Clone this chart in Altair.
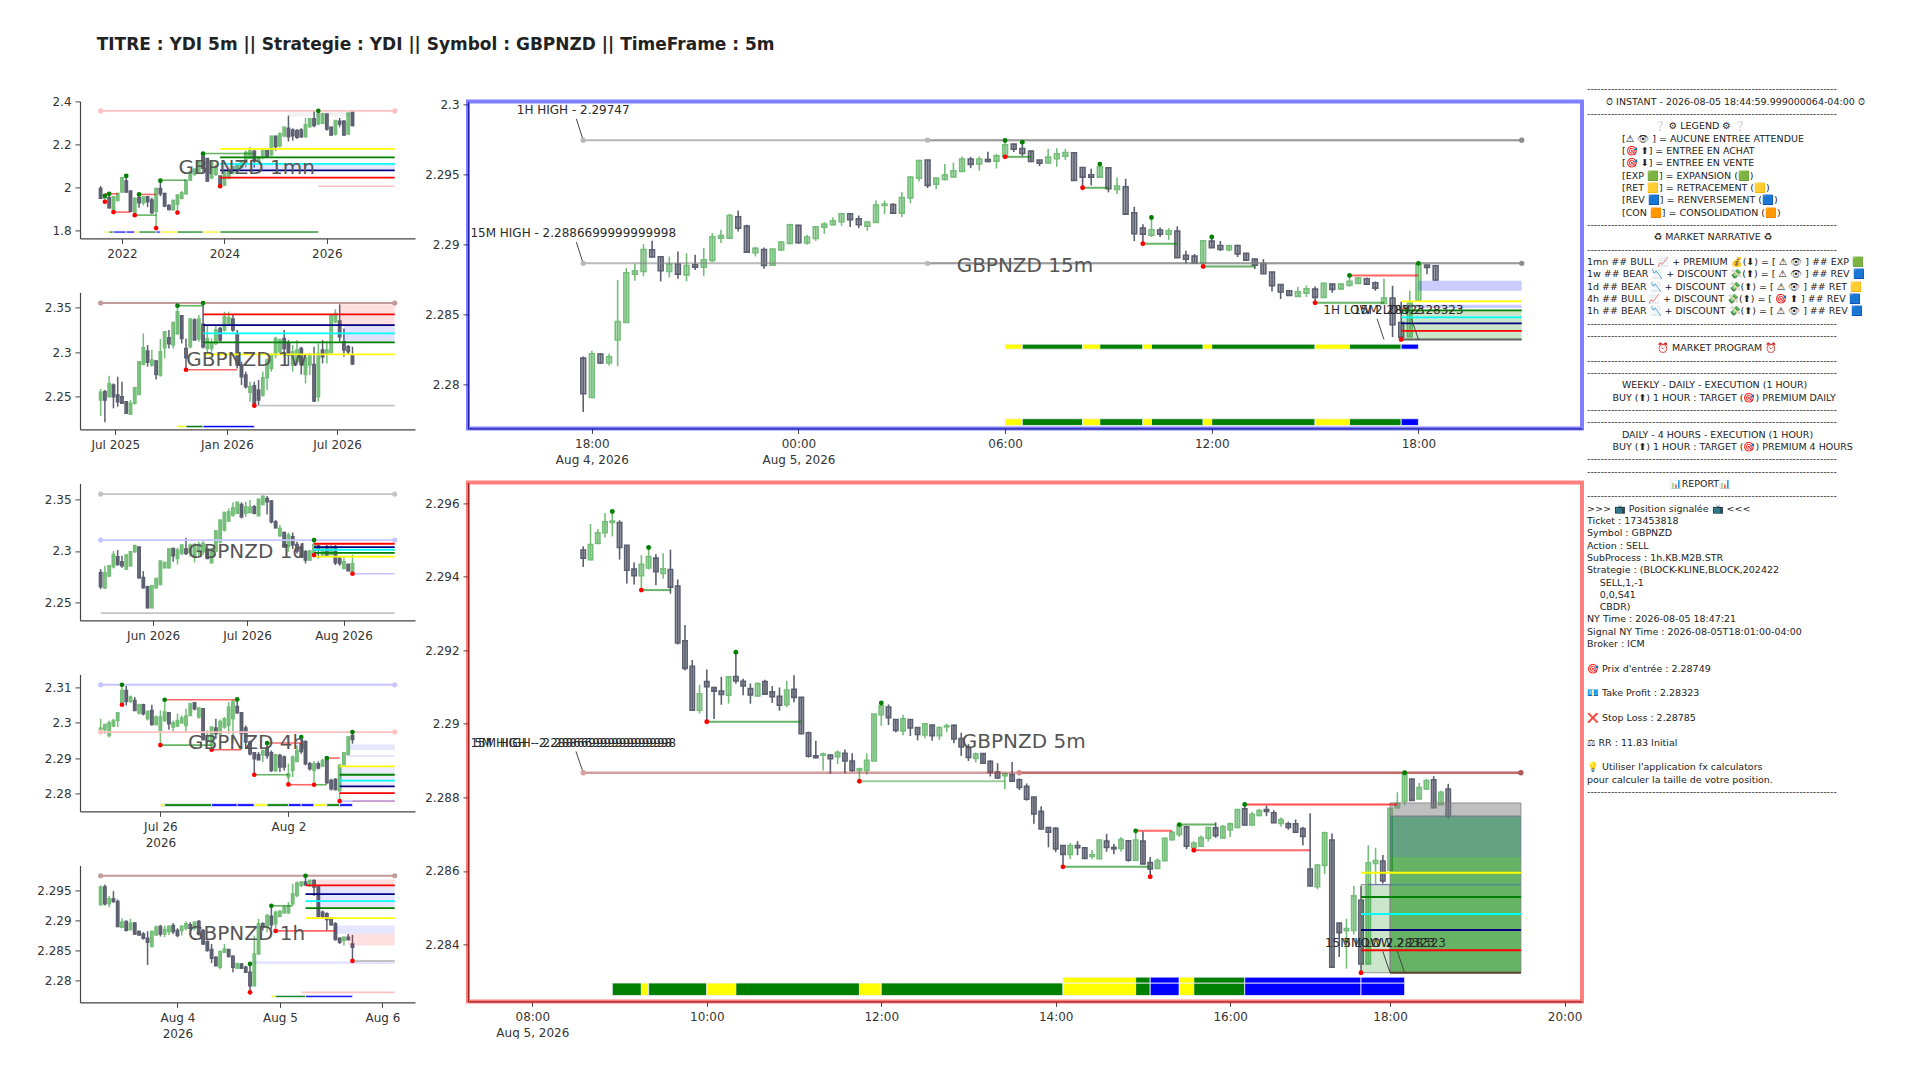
import json
import altair as alt
import pandas as pd

FONT = "DejaVu Sans"
GREEN = "#74be79"
DARK = "#5c5f70"
D, G = "d", "g"

# 5m candles: high, low, open, close (2 + value * 1e-5)
M5 = [(29483,29427,29473,29451),(29544,29445,29447,29488),(29530,29490,29491,29520),(29574,29507,29520,29550),(29578,29510,29548,29552),(29554,29447,29548,29480),(29486,29382,29486,29418),(29439,29379,29421,29403),(29459,29364,29403,29434),(29480,29420,29424,29455),
(29462,29377,29451,29414),(29464,29395,29409,29422),(29474,29354,29420,29372),(29393,29216,29375,29220),(29269,29145,29226,29151),(29174,29037,29157,29037),(29106,29028,29037,29082),(29148,29006,29115,29101),(29101,29013,29099,29089),(29128,29052,29089,29080),
(29129,29055,29078,29128),(29195,29109,29129,29117),(29123,29078,29116,29103),(29110,29055,29096,29079),(29113,29074,29076,29110),(29120,29079,29115,29081),(29103,29057,29087,29074),(29099,29036,29075,29051),(29117,29045,29052,29092),(29132,29059,29094,29072),
(29072,28972,29072,28973),(28979,28908,28976,28912),(28954,28906,28913,28908),(28922,28873,28915,28918),(28917,28864,28915,28905),(28928,28891,28911,28923),(28930,28865,28920,28899),(28920,28869,28899,28873),(28881,28844,28873,28878),(28920,28862,28873,28901),
(29027,28899,28899,29027),(29057,28995,29025,29049),(29053,28997,29046,29017),(29013,28977,29012,28982),(29025,28969,28981,29014),(29013,28967,29012,28989),(28991,28955,28990,28971),(29002,28961,28970,29000),(28998,28954,28997,28968),(28993,28956,28968,28990),
(29001,28977,28992,28995),(28998,28947,28996,28959),(28976,28913,28960,28937),(28945,28899,28935,28909),(28922,28895,28906,28918),(28920,28891,28919,28893),(28901,28857,28898,28868),(28893,28850,28869,28853),(28867,28823,28859,28864),(28896,28842,28862,28844),
(28852,28820,28848,28827),(28838,28791,28830,28795),(28802,28728,28801,28755),(28776,28713,28762,28714),(28720,28664,28718,28705),(28719,28651,28716,28660),(28670,28611,28669,28645),(28676,28632,28645,28669),(28681,28643,28669,28663),(28664,28632,28663,28634),
(28657,28632,28639,28644),(28686,28632,28633,28684),(28701,28652,28681,28664),(28673,28645,28664,28660),(28692,28652,28661,28685),(28684,28625,28682,28629),(28709,28627,28629,28684),(28707,28618,28681,28619),(28638,28584,28623,28605),(28634,28605,28607,28628),
(28690,28627,28628,28689),(28709,28683,28685,28705),(28729,28692,28699,28722),(28723,28659,28720,28667),(28681,28656,28663,28676),(28696,28665,28667,28691),(28720,28680,28689,28718),(28732,28690,28717,28696),(28725,28689,28690,28721),(28732,28692,28712,28728),
(28769,28716,28718,28767),(28781,28723,28769,28725),(28761,28723,28725,28754),(28769,28748,28751,28764),(28778,28749,28767,28762),(28765,28730,28758,28731),(28745,28720,28729,28740),(28734,28712,28728,28718),(28740,28703,28728,28705),(28720,28670,28715,28694),
(28757,28558,28605,28559),(28618,28550,28557,28616),(28707,28591,28615,28704),(28702,28337,28684,28338),(28459,28366,28458,28432),(28470,28334,28437,28443),(28559,28427,28438,28532),(28558,28323,28520,28347),(28670,28346,28347,28622),(28663,28565,28620,28628),
(28643,28566,28627,28573),(28770,28602,28602,28770),(28814,28770,28772,28784),(28867,28778,28789,28862),(28851,28791,28850,28792),(28839,28795,28796,28827),(28851,28821,28823,28846),(28858,28770,28848,28772),(28818,28778,28780,28814),(28837,28743,28823,28749)]

# 15m candles: high, low, open, close (2 + value * 1e-5)
M15 = [(28202,27805,28190,27935),(28243,27909,27909,28221),(28226,28147,28219,28155),(28221,28138,28155,28200),(28747,28131,28319,28452),(28833,28445,28445,28800),(28864,28743,28790,28814),(29004,28774,28809,28966),(29028,28909,28964,28912),(28916,28738,28914,28814),
(28916,28766,28809,28862),(28952,28757,28862,28790),(28940,28738,28785,28852),(28928,28819,28859,28840),(28976,28778,28840,28893),(29083,28874,28888,29057),(29107,29012,29047,29066),(29221,29043,29047,29209),(29243,29095,29200,29119),(29143,28943,29133,28947),
(28985,28916,28943,28974),(28981,28828,28966,28852),(28971,28852,28854,28969),(29024,28957,28962,29019),(29150,29004,29009,29143),(29143,29007,29138,29014),(29071,29000,29012,29055),(29135,29028,29045,29128),(29162,29078,29126,29147),(29195,29138,29143,29171),
(29228,29136,29164,29221),(29226,29126,29221,29178),(29209,29119,29185,29143),(29171,29100,29133,29162),(29316,29157,29159,29283),(29316,29219,29281,29290),(29297,29221,29288,29226),(29376,29197,29226,29338),(29488,29297,29335,29483),(29607,29452,29476,29602),
(29607,29405,29605,29424),(29481,29397,29433,29476),(29576,29459,29466,29497),(29588,29483,29485,29528),(29631,29519,29524,29612),(29628,29547,29612,29574),(29631,29528,29578,29612),(29664,29590,29609,29595),(29650,29545,29597,29635),(29745,29628,29631,29714),
(29719,29662,29719,29683),(29733,29633,29688,29652),(29671,29590,29669,29595),(29607,29562,29605,29583),(29685,29583,29585,29626),(29690,29557,29614,29650),(29685,29605,29633,29659),(29657,29457,29657,29459),(29552,29407,29552,29483),(29543,29424,29500,29483),
(29576,29483,29483,29557),(29552,29374,29550,29400),(29481,29362,29395,29419),(29471,29216,29414,29219),(29271,29026,29228,29078),(29147,29007,29119,29076),(29195,29055,29069,29107),(29124,29055,29105,29076),(29119,29035,29076,29100),(29131,28905,29097,28907),
(28957,28862,28924,28897),(28933,28866,28919,28869),(29031,28866,28869,29028),(29055,28976,29026,28978),(29026,28955,28995,28966),(29000,28952,28964,28993),(29000,28912,28995,28935),(28943,28885,28938,28890),(28900,28826,28897,28854),(28897,28790,28866,28793),
(28807,28666,28805,28707),(28719,28612,28716,28662),(28678,28633,28671,28638),(28700,28628,28631,28664),(28709,28626,28654,28685),(28702,28585,28683,28624),(28728,28621,28624,28724),(28724,28657,28719,28681),(28726,28676,28685,28719),(28781,28702,28709,28738),
(28769,28719,28724,28762),(28766,28714,28757,28719),(28738,28671,28728,28690),(28757,28578,28581,28619),(28707,28340,28619,28428),(28595,28323,28445,28340),(28671,28338,28343,28581),(28867,28600,28605,28857),(28857,28790,28855,28838),(28852,28743,28850,28748)]

# small panels: direction, body top, body bottom, high, low
MN = [(D,1996,1950,2007,1950),(G,1959,1950,1962,1934),(D,1953,1906,1971,1903),(G,1957,1898,1960,1886),(G,1973,1940,1976,1937),(G,2046,1979,2049,1976),(D,2031,1979,2054,1976),(D,1984,1890,1984,1886),(G,1950,1887,1953,1872),(D,1953,1929,1968,1906),
(G,1956,1929,1960,1917),(D,1957,1934,1960,1909),(D,1942,1883,1953,1878),(G,1996,1890,1999,1816),(D,1996,1971,2031,1960),(D,1973,1914,1976,1909),(D,1917,1898,1922,1895),(G,1940,1897,1945,1893),(G,1965,1922,1968,1886),(G,1976,1950,1984,1945),
(G,2034,1971,2037,1968),(G,2074,2034,2077,2031),(G,2085,2062,2090,2054),(G,2116,2074,2124,2062),(D,2147,2090,2158,2070),(D,2135,2031,2135,2028),(G,2116,2046,2124,2038),(G,2093,2062,2108,2054),(D,2054,2015,2054,2007),(G,2070,2012,2077,2007),
(G,2080,2046,2085,2038),(G,2096,2070,2101,2062),(G,2105,2080,2108,2077),(G,2116,2093,2124,2090),(G,2163,2116,2171,2093),(G,2171,2137,2190,2132),(D,2168,2124,2174,2093),(G,2143,2121,2147,2116),(G,2171,2140,2179,2132),(D,2171,2143,2174,2137),
(G,2238,2152,2241,2147),(D,2238,2191,2241,2171),(G,2249,2194,2257,2186),(G,2280,2241,2283,2233),(D,2275,2236,2334,2214),(D,2267,2241,2275,2218),(D,2264,2233,2272,2225),(D,2267,2236,2275,2230),(G,2292,2236,2323,2233),(G,2320,2283,2323,2277),
(D,2319,2288,2358,2280),(G,2342,2295,2358,2291),(G,2342,2299,2347,2295),(D,2342,2272,2342,2264),(D,2280,2244,2283,2241),(G,2311,2249,2314,2241),(D,2308,2295,2323,2280),(D,2308,2244,2314,2241),(G,2345,2249,2350,2246),(D,2350,2288,2355,2284)]

W1 = [(G,22549,22463,22586,22284),(D,22556,22463,22575,22213),(G,22649,22500,22735,22500),(D,22631,22500,22649,22370),(D,22519,22444,22724,22388),(D,22500,22426,22668,22426),(D,22444,22314,22444,22314),(G,22426,22303,22463,22295),(G,22601,22426,22612,22414),(G,22892,22526,22899,22519),
(G,23049,22862,23209,22855),(D,23011,22885,23079,22836),(G,22911,22855,23022,22836),(D,22899,22750,22911,22694),(G,23004,22743,23146,22724),(G,23228,23049,23235,22929),(D,23161,23093,23246,23041),(G,23332,23079,23340,23041),(G,23452,23209,23519,23190),(D,23407,23153,23414,23097),
(D,23041,22937,23153,22810),(G,23370,23060,23377,23041),(D,23358,23134,23377,23134),(G,23370,23146,23414,23116),(D,23310,23060,23549,23041),(G,23153,23041,23302,22985),(G,23097,23041,23153,23004),(G,23246,23097,23295,23079),(D,23265,23134,23284,23116),(G,23396,23246,23452,23228),
(G,23384,23310,23452,23302),(D,23370,23246,23414,23228),(D,23209,22855,23246,22817),(D,22855,22724,22892,22631),(D,22743,22612,22780,22593),(G,22612,22549,22668,22444),(D,22623,22426,22668,22407),(D,22575,22463,22687,22407),(G,22713,22519,22780,22500),(G,22911,22713,22929,22575),
(G,22967,22817,22985,22780),(G,23153,22967,23172,22929),(G,23134,23004,23153,22967),(D,23153,23041,23246,22948),(D,23097,22967,23134,22855),(G,23004,22855,23079,22780),(G,23022,22892,23134,22855),(D,23041,22862,23060,22750),(G,22937,22750,22967,22649),(G,22967,22855,22985,22743),
(D,22862,22452,23060,22444),(G,22985,22500,23097,22444),(D,23022,22948,23134,22873),(G,23022,22985,23123,22873),(G,23414,22996,23433,22985),(G,23433,23340,23481,23321),(D,23347,23172,23534,23116),(D,23116,23022,23265,22948),(D,23060,23004,23079,22967),(D,22967,22866,23060,22855)]

D1 = [(D,22793,22654,22825,22632),(G,22789,22645,22857,22632),(G,22857,22757,22863,22751),(G,22966,22847,22998,22831),(D,22944,22870,23008,22857),(D,22896,22857,22953,22838),(G,22960,22825,22969,22815),(G,22992,22857,22998,22847),(G,23050,22992,23063,22985),(D,23037,22741,23040,22735),
(D,22744,22645,22805,22638),(D,22654,22452,22664,22445),(G,22664,22452,22670,22445),(G,22735,22645,22741,22632),(G,22902,22677,22905,22670),(G,22889,22838,22896,22831),(G,23018,22838,23024,22831),(D,23024,22953,23031,22896),(G,23008,22928,23031,22870),(G,23056,22976,23063,22960),
(D,23018,22976,23127,22960),(G,23056,22985,23072,22944),(G,23063,22944,23072,22889),(G,23063,22992,23088,22944),(G,23072,22992,23095,22960),(D,23018,22928,23031,22921),(G,23018,22886,23031,22879),(G,23191,22998,23201,22992),(G,23297,23088,23297,23072),(G,23371,23201,23378,23185),
(G,23378,23288,23410,23281),(G,23416,23346,23468,23330),(G,23468,23362,23474,23362),(D,23448,23330,23468,23313),(G,23426,23362,23474,23330),(G,23420,23371,23490,23362),(D,23426,23362,23442,23352),(G,23497,23339,23506,23336),(G,23526,23448,23532,23442),(D,23506,23474,23529,23352),
(D,23481,23281,23490,23265),(D,23281,23223,23297,23217),(G,23217,23146,23249,23137),(D,23178,23037,23185,23031),(G,23153,23040,23178,22992),(D,23137,23056,23178,23018),(D,23063,22998,23088,22976),(D,23040,22944,23072,22934),(D,22992,22912,23008,22879),(G,22998,22912,23008,22902),
(G,23063,22953,23108,22953),(D,23050,23008,23063,22928),(G,23018,22960,23040,22944),(D,23040,22960,23056,22944),(G,23024,22966,23056,22960),(D,23040,22886,23056,22863),(D,22928,22879,22944,22857),(G,22896,22831,22944,22831),(D,22870,22809,22879,22805),(G,22879,22799,22966,22780)]

H4 = [(G,229853,229759,230116,229721),(G,229956,229815,229975,229693),(G,230003,229646,230069,229590),(G,230069,229909,230116,229881),(G,230285,230069,230304,229881),(G,230915,230567,231075,230539),(D,230915,230605,231037,230492),(G,230727,230605,230774,230567),(D,230633,230351,230727,230351),(G,230511,230285,230539,230229),
(D,230511,230257,230539,230210),(G,230323,230116,230351,230069),(D,230351,229956,230511,229928),(G,230163,229956,230210,229928),(G,230163,229787,230351,229364),(G,230304,230069,230652,230022),(D,230285,229975,230304,229806),(G,230003,229881,230069,229721),(G,230069,229909,230257,229881),(G,230135,230003,230210,229975),
(G,230191,229928,230398,229721),(G,230539,230210,230567,230191),(D,230567,230398,230586,230351),(G,230417,230163,230445,230116),(D,230398,229533,230417,229505),(G,229646,229505,229787,229364),(G,229881,229364,229881,229251),(D,229853,229693,230116,229552),(G,230041,229693,230097,229646),(G,230116,229881,230163,229834),
(G,230445,229928,230586,229693),(G,230605,230116,230661,229439),(D,230464,230285,230633,230257),(D,230285,229693,230304,229665),(D,229853,229458,229928,229270),(D,229458,229129,229505,229082),(D,229157,228988,229176,228518),(D,229101,228960,229176,228941),(G,229214,229101,229251,228894),(D,229270,229082,229458,228988),
(D,229157,228659,229223,228612),(G,229101,228659,229129,228612),(D,229082,228753,229129,228612),(D,229035,228753,229082,228659),(G,228565,228471,228847,228330),(G,229035,228659,229082,228471),(G,229223,228913,229364,228894),(D,229411,229195,229599,229129),(D,229477,228847,229505,228800),(D,228847,228706,228894,228659),
(G,228847,228659,228922,228255),(D,228847,228725,228913,228687),(G,228941,228781,228988,228753),(D,228988,228311,229007,228283),(D,228377,228142,228424,228095),(D,228405,228123,228443,228095),(G,228800,228095,228847,227813),(G,229157,228819,229176,228800),(G,229599,229101,229627,229082),(D,229646,229533,229740,229411)]

H1 = [(G,229556,229261,229584,229250),(D,229556,229278,229600,229250),(G,229361,229278,229406,229223),(D,229361,229317,229489,229295),(D,229317,228900,229350,228889),(G,228973,228889,229039,228873),(D,228984,228839,229000,228817),(G,228956,228850,229028,228834),(D,228961,228778,228973,228761),(D,228817,228761,228834,228750),
(D,228778,228706,228806,228684),(D,228706,228639,228823,228261),(G,228817,228567,228834,228556),(G,228889,228761,228917,228750),(D,228900,228778,228928,228734),(G,228850,228778,228917,228722),(G,228906,228817,228917,228761),(D,228917,228817,228956,228778),(D,228834,228750,228873,228722),(G,228906,228834,228917,228750),
(G,228945,228873,228984,228834),(D,228928,228873,228973,228834),(G,228973,228873,228984,228834),(D,228984,228778,229011,228750),(D,228834,228611,228861,228595),(D,228650,228500,228667,228484),(D,228517,228373,228611,228295),(D,228389,228250,228406,228239),(G,228484,228222,228500,228184),(G,228528,228473,228611,228461),
(D,228517,228400,228528,228389),(D,228406,228222,228417,228139),(G,228284,228206,228295,228195),(D,228278,228206,228295,228195),(D,228222,228139,228250,228128),(D,228139,227917,228278,227806),(G,228445,227917,228750,227906),(G,228945,228445,229028,228445),(D,228945,228889,228973,228834),(G,229084,228889,229111,228806),
(D,229073,228928,229250,228861),(G,229139,228945,229167,228873),(G,229156,229073,229167,229056),(G,229223,229128,229250,229111),(G,229239,229128,229306,229111),(G,229445,229278,229611,229250),(G,229623,229417,229650,229389),(G,229639,229584,229650,229556),(D,229639,229595,229750,229584),(G,229667,229584,229684,229556),
(D,229667,229556,229684,229406),(D,229556,229073,229584,229056),(D,229139,229073,229167,229039),(D,229111,229017,229139,228834),(D,229028,228928,229056,228917),(D,228945,228684,228973,228667),(D,228706,228639,228723,228611),(G,228723,228667,228734,228584),(D,228723,228684,228778,228667),(D,228611,228556,228761,228322)]

SEG_G = "rgba(0,128,0,0.6)"
SEG_R = "rgba(255,0,0,0.6)"
PINK = "#ffc0c0"
LAV = "#c4c4ff"
ROSY = "#c29a9a"
LGRAY = "#c4c4c4"

def levels(k0, k1, vals):
    return [(k0, k1, v, c, 1.8) for v, c in zip(vals, ["yellow", "green", "cyan", "navy", "red"])]

# ---- panel decorations: (from, to, value, colour, width)
MN_LINES = [(0,68.9,2356,PINK,1.8),(51,68.9,2006,PINK,1.6),(1,4,1971,SEG_R,1.6),(3,7,1886,SEG_R,1.6),(9,13,1968,SEG_R,1.6),(8,13,1872,SEG_G,1.6),(14,20,2034,SEG_G,1.6),(24,36,2158,SEG_G,1.6)] + levels(28,68.9,[2180,2140,2110,2080,2046])
MN_RECTS = [(28,68.9,2077,2108,"blue",0.1,None),(44,59,2330,2350,"gray",0.1,None)]
MN_UP = [(1,1962),(2,1971),(6,2054),(9,1968),(14,2032),(24,2158),(51,2356)]
MN_DN = [(1,1934),(3,1886),(8,1872),(13,1812),(18,1884),(28,2006)]
MN_END = [(0,2356,PINK),(68.9,2356,PINK)]
MN_STRIP = [(1,2,"yellow"),(2,3,"green"),(3,6,"blue"),(6,8,"blue"),(8,9,"yellow"),(9,13,"green"),(13,14,"blue"),(14,18,"yellow"),(18,24,"green"),(24,28,"yellow"),(28,51,"green")]

W1_LINES = [(0,68.9,23549,ROSY,1.9),(36,68.9,22400,LGRAY,1.6),(18,24,23519,SEG_G,1.6),(20,32,22802,SEG_R,1.6)] + levels(24,68.9,[22974,23108,23209,23302,23422])
W1_RECTS = [(56,68.9,23302,23534,"red",0.12,None),(57,68.9,23108,23302,"blue",0.12,None)]
W1_UP = [(18,23519),(24,23549)]
W1_DN = [(20,22802),(36,22400)]
W1_END = [(0,23549,ROSY),(68.9,23549,ROSY)]
W1_STRIP = [(18,20,"yellow"),(20,24,"green"),(24,36,"blue")]

D1_LINES = [(0,68.9,23548,LGRAY,1.8),(0,68.9,22400,LGRAY,1.6),(0,68.9,23104,LAV,1.8),(59,68.9,22780,LAV,1.6)] + levels(50,68.9,[22944,22982,23011,23037,23069])
D1_RECTS = []
D1_UP = [(50,23104)]
D1_DN = [(50,22960),(59,22780)]
D1_END = [(0,23548,LGRAY),(68.9,23548,LGRAY),(0,23104,LAV),(68.9,23104,LAV)]
D1_STRIP = []

H4_LINES = [(0,68.9,231075,LAV,1.8),(0,68.9,229740,PINK,1.8),(15,32,230652,SEG_R,1.6),(39,47,229430,SEG_R,1.6),(44,50,228255,SEG_R,1.6),(26,33,229242,SEG_R,1.6),(53,56,229007,SEG_R,1.6),(14,26,229373,SEG_G,1.6),(36,44,228537,SEG_G,1.6),(50,53,228255,SEG_G,1.6),
            (58,68.9,229063,"#e4e4ff",1.6),(56,68.9,227794,LAV,1.6),(59,68.9,227794,"#cc99cc",1.6)] + levels(56,68.9,[228772,228537,228368,228208,228020])
H4_RECTS = [(58.4,68.9,229232,229392,"blue",0.1,None),(56,68.9,228208,228772,"blue",0.07,None)]
H4_UP = [(5,231075),(15,230652),(32,230661),(39,229430),(47,229599),(53,229007),(59,229740)]
H4_DN = [(5,230511),(14,229373),(26,229242),(36,228537),(44,228264),(50,228255),(56,227794)]
H4_END = [(0,231075,LAV),(68.9,231075,LAV),(0,229740,PINK),(68.9,229740,PINK)]
H4_STRIP = [(14,15,"yellow"),(15,26,"green"),(26,32,"blue"),(32,36,"blue"),(36,39,"yellow"),(39,44,"green"),(44,47,"blue"),(47,50,"blue"),(50,53,"yellow"),(53,56,"green"),(56,59,"blue")]

H1_LINES = [(0,68.9,229745,ROSY,1.9),(59,68.9,228328,"#b0b0b0",1.6),(47,68.9,227806,PINK,1.6),(41,55,228828,SEG_R,1.6),(40,45,229245,SEG_G,1.6)] + levels(48,68.9,[229039,229206,229323,229439,229584])
H1_RECTS = [(50,68.9,229567,229684,"red",0.12,None),(51,68.9,229222,229567,"blue",0.1,None),(55,68.9,228778,228917,"blue",0.1,None),(58,68.9,228584,228778,"red",0.12,None),(36,68.9,228278,228322,"blue",0.1,None)]
H1_UP = [(35,228278),(40,229245),(48,229745)]
H1_DN = [(35,227806),(41,228828),(59,228328)]
H1_END = [(0,229745,ROSY),(68.9,229745,ROSY)]
H1_STRIP = [(40,41,"yellow"),(41,48,"green"),(48,59,"blue")]

M15_LINES = [(0,109,29747,"rgba(128,128,128,0.55)",2),(40,109,29747,"rgba(128,128,128,0.55)",2),(0,109,28867,"rgba(128,128,128,0.55)",2),(40,109,28867,"rgba(128,128,128,0.55)",2),
             (49,52,29628,SEG_G,2),(58,61,29407,SEG_G,2),(65,69,29007,SEG_G,2),(72,78,28845,SEG_G,2),(85,93,28585,SEG_G,2),(89,97,28781,SEG_R,2),(95,109,28323,"rgba(60,60,60,0.8)",2)] + levels(95,109,[28595,28531,28481,28438,28385])
M15_RECTS = [(95,109,28323,28531,"green",0.2,None),(97,109,28671,28743,"blue",0.2,None),(95,109,28548,28571,"blue",0.2,None)]
M15_UP = [(49,29745),(51,29733),(60,29576),(66,29195),(73,29055),(89,28781),(97,28867)]
M15_DN = [(49,29628),(58,29407),(65,29007),(72,28845),(85,28585),(95,28323)]
M15_END = [(0,29747,"#b8b8b8"),(40,29747,"#b8b8b8"),(109,29747,"#8c8c8c"),(0,28867,"#b8b8b8"),(40,28867,"#b8b8b8"),(109,28867,"#8c8c8c")]
M15_STRIP = [(49,51,"yellow"),(51,58,"green"),(58,60,"yellow"),(60,65,"green"),(65,66,"yellow"),(66,72,"green"),(72,73,"yellow"),(73,85,"green"),(85,89,"yellow"),(89,95,"green"),(95,97,"blue")]

M5_LINES = [(0,129,28867,"rgba(170,60,60,0.5)",2.4),(60,129,28867,"rgba(170,60,60,0.5)",2.4),
            (8,12,29364,SEG_G,2),(17,30,29006,SEG_G,2),(38,58,28844,"rgba(0,128,0,0.4)",2),(66,78,28611,SEG_G,2),(82,87,28726,SEG_G,2),
            (76,81,28709,SEG_R,2),(84,100,28656,SEG_R,2),(91,112,28781,"rgba(255,0,0,0.7)",2),(111,129,28323,"#604030",2)] + [(107,129,v,c,2) for v,c in zip([28595,28529,28483,28439,28384],["yellow","green","cyan","navy","red"])]
M5_RECTS = [(111,129,28749,28785,"gray",0.5,"gray"),(111,129,28323,28749,"green",0.6,"gray"),(111,129,28638,28749,"#6060ff",0.2,None),(107,111,28323,28563,"green",0.2,"gray"),(108,129,28560,28565,"blue",0.2,None)]
M5_UP = [(4,29578),(9,29480),(21,29195),(41,29057),(76,28709),(82,28726),(91,28781),(113,28867)]
M5_DN = [(8,29364),(17,29006),(38,28844),(66,28611),(78,28584),(84,28656),(107,28323)]
M5_END = [(0,28867,"#d8a0a0"),(60,28867,"#d08888"),(129,28867,"#b05a5a")]
M5_STRIP = [(4,8,"green"),(8,9,"yellow"),(9,17,"green"),(17,21,"yellow"),(21,38,"green"),(38,41,"yellow"),(41,66,"green"),(66,76,"yellow"),(76,78,"green"),(78,82,"blue"),(82,84,"yellow"),(84,91,"green"),(91,107,"blue"),(107,113,"blue")]
M5_STRIP_TOP = [(66,76,"yellow"),(76,78,"green"),(78,82,"blue"),(82,84,"yellow"),(84,91,"green"),(91,107,"blue"),(107,113,"blue")]

REPORT = """-
      ⏱ INSTANT - 2026-08-05 18:44:59.999000064-04:00 ⏱
-
                     ❔ ⚙ LEGEND ⚙ ❔
           [⚠ 👁 ] = AUCUNE ENTREE ATTENDUE
           [🎯 ⬆] = ENTREE EN ACHAT
           [🎯 ⬇] = ENTREE EN VENTE
           [EXP 🟩] = EXPANSION (🟩)
           [RET 🟨] = RETRACEMENT (🟨)
           [REV 🟦] = RENVERSEMENT (🟦)
           [CON 🟧] = CONSOLIDATION (🟧)
-
                     ♻ MARKET NARRATIVE ♻
-
1mn ## BULL 📈 + PREMIUM 💰(⬇) = [ ⚠ 👁 ] ## EXP 🟩
1w ## BEAR 📉 + DISCOUNT 💸(⬆) = [ ⚠ 👁 ] ## REV 🟦
1d ## BEAR 📉 + DISCOUNT 💸(⬆) = [ ⚠ 👁 ] ## RET 🟨
4h ## BULL 📈 + DISCOUNT 💸(⬆) = [ 🎯 ⬆ ] ## REV 🟦
1h ## BEAR 📉 + DISCOUNT 💸(⬆) = [ ⚠ 👁 ] ## REV 🟦
-
-
                      ⏰ MARKET PROGRAM ⏰
-
-
           WEEKLY - DAILY - EXECUTION (1 HOUR)
        BUY (⬆) 1 HOUR : TARGET (🎯) PREMIUM DAILY
-
-
           DAILY - 4 HOURS - EXECUTION (1 HOUR)
        BUY (⬆) 1 HOUR : TARGET (🎯) PREMIUM 4 HOURS
-
-
                          📊REPORT📊
-
>>> 📺 Position signalée 📺 <<<
Ticket : 173453818
Symbol : GBPNZD
Action : SELL
SubProcess : 1h.KB.M2B.STR
Strategie : (BLOCK-KLINE,BLOCK,202422
    SELL,1,-1
    0,0,S41
    CBDR)
NY Time : 2026-08-05 18:47:21
Signal NY Time : 2026-08-05T18:01:00-04:00
Broker : ICM

🎯 Prix d'entrée : 2.28749

💶 Take Profit : 2.28323

❌ Stop Loss : 2.28785

⚖ RR : 11.83 Initial

💡 Utiliser  l'application fx calculators
pour calculer la taille de votre position.
-""".split("\n")


def label_expr(ticks):
    return json.dumps({str(k): v for k, v in ticks.items()}) + "[datum.value]"


def panel(rows, kind, conv, w, h, xdom, ydom, xticks, yticks, yfmt, lines, rects, ups, dns, ends, strips, text, body_w, stroke_w, psize, labels=(), leaders=(), border=None):
    xs = alt.Scale(domain=xdom, nice=False, zero=False)
    ys = alt.Scale(domain=[conv(ydom[0]), conv(ydom[1])], nice=False, zero=False)
    xax = alt.Axis(values=list(xticks.keys()), labelExpr=label_expr(xticks), labelLineHeight=16, labelOverlap=False, labelFlush=False, labelPadding=5)
    yax = alt.Axis(values=yticks, format=yfmt, labelOverlap=False, labelFlush=False, labelPadding=4)
    X = lambda f: alt.X(f, type="quantitative", scale=xs, axis=xax, title=None)
    Y = lambda f: alt.Y(f, type="quantitative", scale=ys, axis=yax, title=None)

    recs = []
    for k, r in enumerate(rows):
        if kind == "main":
            hi, lo, op, cl = r
            col = GREEN if cl >= op else DARK
            top, bot = max(op, cl), min(op, cl)
        else:
            d, top, bot, hi, lo = r
            col = GREEN if d == G else DARK
        recs.append(dict(k=k, x0=k - body_w, x1=k + body_w, hi=conv(hi), lo=conv(lo), top=conv(top), bot=conv(bot), col=col))
    cd = pd.DataFrame(recs)
    layers = [
        alt.Chart(cd).mark_rule(strokeWidth=stroke_w).encode(x=X("k"), y=Y("lo"), y2="hi", color=alt.Color("col:N", scale=None)),
        alt.Chart(cd).mark_rect(strokeWidth=stroke_w, fillOpacity=0.5).encode(x=X("x0"), x2="x1", y=Y("bot"), y2="top", fill=alt.Fill("col:N", scale=None), stroke=alt.Stroke("col:N", scale=None)),
    ]
    for a, b, v0, v1, c, op, st in rects:
        mark = dict(fill=c, fillOpacity=op)
        if st:
            mark.update(stroke=st, strokeWidth=1, strokeOpacity=0.8)
        layers.append(alt.Chart(pd.DataFrame([dict(a=a, b=b, v0=conv(v0), v1=conv(v1))])).mark_rect(**mark).encode(x=X("a"), x2="b", y=Y("v0"), y2="v1"))
    for (a, b, c0, c1), segs in strips:
        sd = pd.DataFrame([dict(a=s[0], b=s[1], c=s[2], v0=conv(c0), v1=conv(c1)) for s in segs])
        layers.append(alt.Chart(sd).mark_rect(stroke="#f0f0ff", strokeWidth=0.8).encode(x=X("a"), x2="b", y=Y("v0"), y2="v1", fill=alt.Fill("c:N", scale=None)))
    if lines:
        ld = pd.DataFrame([dict(a=l[0], b=l[1], v=conv(l[2]), c=l[3], s=l[4], i=i) for i, l in enumerate(lines)])
        for i, row in ld.iterrows():
            layers.append(alt.Chart(ld[ld.i == i]).mark_rule(strokeWidth=float(row.s), color=row.c).encode(x=X("a"), x2="b", y=Y("v")))
    if leaders:
        ld = pd.DataFrame([dict(a=a, b=b, v0=conv(v0), v1=conv(v1)) for a, b, v0, v1 in leaders])
        layers.append(alt.Chart(ld).mark_rule(strokeWidth=1, color="#444").encode(x=X("a"), x2="b", y=Y("v0"), y2="v1"))
    if ends:
        ed = pd.DataFrame([dict(k=k, v=conv(v), c=c) for k, v, c in ends])
        layers.append(alt.Chart(ed).mark_circle(size=psize * 1.2, opacity=1).encode(x=X("k"), y=Y("v"), fill=alt.Fill("c:N", scale=None)))
    if ups:
        layers.append(alt.Chart(pd.DataFrame([dict(k=k, v=conv(v)) for k, v in ups])).mark_circle(size=psize, opacity=1, color="green").encode(x=X("k"), y=Y("v")))
    if dns:
        layers.append(alt.Chart(pd.DataFrame([dict(k=k, v=conv(v)) for k, v in dns])).mark_circle(size=psize, opacity=1, color="red").encode(x=X("k"), y=Y("v")))
    if labels:
        td = pd.DataFrame([dict(k=k, v=conv(v), t=t) for k, v, t in labels])
        layers.append(alt.Chart(td).mark_text(font=FONT, fontSize=12, color="#2a2a2a", dx=-10, dy=-30).encode(x=X("k"), y=Y("v"), text="t:N"))
    wk, wv, wt = text
    layers.append(alt.Chart(pd.DataFrame([dict(k=wk, v=conv(wv), t=wt)])).mark_text(font=FONT, fontSize=20, color="#555555").encode(x=X("k"), y=Y("v"), text="t:N"))
    if border:
        layers.append(alt.Chart(pd.DataFrame([dict(a=xdom[0], b=xdom[1], v0=conv(ydom[0]), v1=conv(ydom[1]))])).mark_rect(fillOpacity=0, stroke=border, strokeOpacity=0.5, strokeWidth=4).encode(x=X("a"), x2="b", y=Y("v0"), y2="v1"))
    return alt.layer(*layers).properties(width=w, height=h)


SW, SH = 335, 137
SX = [-4.83, 73.65]
milli = lambda v: v / 1e3
tenth = lambda v: v / 1e4
pt = lambda v: v / 1e5
two = lambda v: 2 + v / 1e5

p1 = panel(MN, "small", milli, SW, SH, SX, [1764, 2400], {5: "2022", 29: "2024", 53: "2026"}, [1.8, 2.0, 2.2, 2.4], ".1~f",
           MN_LINES, MN_RECTS, MN_UP, MN_DN, MN_END, [((0, 0, 1789, 1798), MN_STRIP)], (34.2, 2090, "GBPNZD 1mn"), 0.28, 1.5, 22)
p2 = panel(W1, "small", tenth, SW, SH, SX, [22134, 23668], {3.43: "Jul 2025", 29.6: "Jan 2026", 55.4: "Jul 2026"}, [2.25, 2.3, 2.35], ".2~f",
           W1_LINES, W1_RECTS, W1_UP, W1_DN, W1_END, [((0, 0, 22153, 22179), W1_STRIP)], (34.2, 22911, "GBPNZD 1w"), 0.28, 1.5, 22)
p3 = panel(D1, "small", tenth, SW, SH, SX, [22330, 23651], {12.3: "Jun 2026", 34.3: "Jul 2026", 56.9: "Aug 2026"}, [2.25, 2.3, 2.35], ".2~f",
           D1_LINES, D1_RECTS, D1_UP, D1_DN, D1_END, [], (34.2, 22992, "GBPNZD 1d"), 0.28, 1.5, 22)
p4 = panel(H4, "small", pt, SW, SH, SX, [227503, 231367], {14: ["Jul 26", "2026"], 44: "Aug 2"}, [2.28, 2.29, 2.3, 2.31], ".2~f",
           H4_LINES, H4_RECTS, H4_UP, H4_DN, H4_END, [((0, 0, 227644, 227719), H4_STRIP)], (34.2, 229430, "GBPNZD 4h"), 0.28, 1.5, 22)
p5 = panel(H1, "small", pt, SW, SH, SX, [227639, 229917], {18: ["Aug 4", "2026"], 42: "Aug 5", 66: "Aug 6"}, [2.28, 2.285, 2.29, 2.295], ".3~f",
           H1_LINES, H1_RECTS, H1_UP, H1_DN, H1_END, [((0, 0, 227722, 227756), H1_STRIP)], (34.2, 228778, "GBPNZD 1h"), 0.28, 1.5, 22)

m15 = panel(M15, "main", two, 1114, 327, [-13.38, 116], [27688, 30024],
            {1: ["18:00", "Aug 4, 2026"], 25: ["00:00", "Aug 5, 2026"], 49: "06:00", 73: "12:00", 97: "18:00"}, [2.28, 2.285, 2.29, 2.295, 2.3], ".3~f",
            M15_LINES, M15_RECTS, M15_UP, M15_DN, M15_END, [((0, 0, 28254, 28290), M15_STRIP), ((0, 0, 27709, 27757), M15_STRIP)], (51.3, 28850, "GBPNZD 15m"), 0.28, 1.6, 24,
            labels=[(0, 29747, "1H HIGH - 2.29747"), (0, 28867, "15M HIGH - 2.2886699999999998"), (93, 28323, "1H LOW 2.28323"), (97, 28323, "15M LOW 2.28323")],
            leaders=[(-0.8, 0, 29900, 29747), (-0.8, 0, 29019, 28867), (92.2, 93, 28471, 28323), (96.2, 97, 28471, 28323)],
            border="#0000ff")
m5 = panel(M5, "main", two, 1114, 519, [-15.85, 137.4], [28245, 29657],
           {-7: ["08:00", "Aug 5, 2026"], 17: "10:00", 41: "12:00", 65: "14:00", 89: "16:00", 111: "18:00", 135: "20:00"}, [2.284, 2.286, 2.288, 2.29, 2.292, 2.294, 2.296], ".3~f",
           M5_LINES, M5_RECTS, M5_UP, M5_DN, M5_END, [((0, 0, 28261, 28295), M5_STRIP), ((0, 0, 28295, 28311), M5_STRIP_TOP)], (60.6, 28950, "GBPNZD 5m"), 0.3, 1.6, 24,
           labels=[(0, 28867, "15M HIGH - 2.2886699999999998"), (0, 28867, "5M HIGH - 2.2886699999999998"), (111, 28323, "15M LOW 2.28323"), (113, 28323, "5M LOW 2.28323")],
           leaders=[(-1, 0, 28925, 28867), (110, 111, 28381, 28323), (112, 113, 28381, 28323)],
           border="#ff0000")

SPACE = 3.18  # width of one leading space of the report text
rep = []
for i, line in enumerate(REPORT):
    t = "-" * 73 if line == "-" else line.strip(" ")
    rep.append(dict(r=i, x=(len(line) - len(line.lstrip(" "))) * SPACE, t=t))
text_panel = (
    alt.Chart(pd.DataFrame(rep))
    .mark_text(align="left", baseline="middle", dx=731, font=FONT, fontSize=9.5, color="#222222")
    .encode(
        x=alt.X("x:Q", scale=alt.Scale(domain=[0, 280], nice=False), axis=None),
        y=alt.Y("r:Q", scale=alt.Scale(domain=[73.98, 0.972], nice=False, zero=False), axis=None),
        text="t:N",
    )
    .properties(width=280, height=900)
)

left = alt.vconcat(p1, p2, p3, p4, p5, spacing=54, bounds="flush")
mid = alt.vconcat(m15, m5, spacing=54, bounds="flush")
chart = (
    alt.hconcat(left, mid, text_panel, spacing=388, bounds="flush")
    .properties(
        padding={"left": 28, "top": 27.4, "right": 0, "bottom": 0},
        title=alt.TitleParams(
            "TITRE : YDI 5m || Strategie : YDI || Symbol : GBPNZD || TimeFrame : 5m",
            anchor="start", font=FONT, fontSize=17, fontWeight="bold", color="#222222", dx=60, offset=30.6,
        ),
    )
    .configure_view(stroke=None)
    .configure_axis(grid=False, domainColor="#444444", tickColor="#444444", labelColor="#333333", labelFont=FONT, labelFontSize=12, tickSize=5, domainWidth=1.2, tickWidth=1)
)
chart.save("out.html", embed_options={"renderer": "svg", "actions": False})
